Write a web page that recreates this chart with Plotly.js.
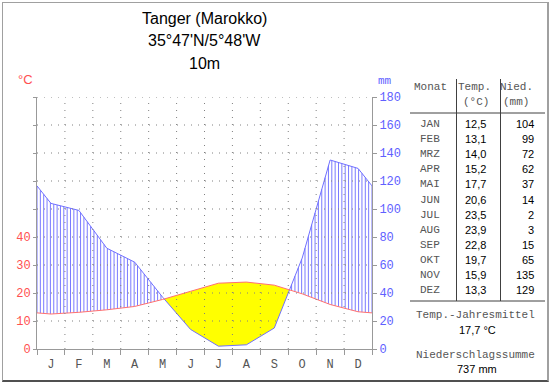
<!DOCTYPE html>
<html><head><meta charset="utf-8">
<script src="https://cdn.plot.ly/plotly-3.0.1.min.js"></script>
<style>
html,body{margin:0;padding:0;background:#fff;}
#chart{width:550px;height:384px;position:absolute;left:0;top:0;}
#frame{position:absolute;left:2px;top:2px;width:544px;height:377px;border:1px solid #a0a0a0;border-right:2px solid #a0a0a0;border-bottom:2px solid #505050;pointer-events:none;}
</style>
</head><body><div id="chart"></div><div id="frame"></div>
<script>
const monthInitials = ['J','F','M','A','M','J','J','A','S','O','N','D'];
const monthNames = ['JAN','FEB','MRZ','APR','MAI','JUN','JUL','AUG','SEP','OKT','NOV','DEZ'];
const temperature = [12.5,13.1,14.0,15.2,17.7,20.6,23.5,23.9,22.8,19.7,15.9,13.3];
const precipitation = [104,99,72,62,37,14,2,3,15,65,135,129];
const tempTickLabels = [0,10,20,30,40];
const precipTicks = [0,20,40,60,80,100,120,140,160,180];
const stationLines = ['Tanger (Marokko)', "35°47'N/5°48'W", '10m'];

// curve with wrap-around edge values
const centers = monthInitials.map((_, i) => i + 0.5);
const xs = [0, ...centers, 12];
const edgeT = (temperature[0] + temperature[11]) / 2;
const edgeP = (precipitation[0] + precipitation[11]) / 2;
const tCurve = [edgeT, ...temperature, edgeT];
const pCurve = [edgeP, ...precipitation, edgeP];
const tmm = tCurve.map(t => t * 2);

function interp(X, Y, x) {
  for (let i = 1; i < X.length; i++) {
    if (x <= X[i] + 1e-9) {
      const t = (x - X[i-1]) / (X[i] - X[i-1]);
      return Y[i-1] + t * (Y[i] - Y[i-1]);
    }
  }
  return Y[Y.length-1];
}

// dry regions (temperature above precipitation)
const d = xs.map((x, i) => pCurve[i] - tmm[i]);
const regions = []; let cur = null;
for (let i = 0; i < xs.length; i++) {
  if (i > 0 && (d[i-1] >= 0) !== (d[i] >= 0)) {
    const f = d[i-1] / (d[i-1] - d[i]);
    const xc = xs[i-1] + f * (xs[i] - xs[i-1]);
    const yc = tmm[i-1] + f * (tmm[i] - tmm[i-1]);
    if (d[i] < 0) { cur = {top: [[xc, yc]], bot: [[xc, yc]]}; }
    else if (cur) { cur.top.push([xc, yc]); cur.bot.push([xc, yc]); regions.push(cur); cur = null; }
  }
  if (d[i] < 0 && cur) { cur.top.push([xs[i], tmm[i]]); cur.bot.push([xs[i], pCurve[i]]); }
}

const traces = [];
// hatching (humid period)
const hx = [], hy = [];
const step = 0.12;
for (let k = 0; k * step <= 12 + 1e-9; k++) {
  const x = Math.min(k * step, 12);
  const p = interp(xs, pCurve, x), t = interp(xs, tmm, x);
  if (p > t) { hx.push(x, x, null); hy.push(t, p, null); }
}
traces.push({x: hx, y: hy, type: 'scatter', mode: 'lines', line: {color: '#7a7aff', width: 1}, hoverinfo: 'skip'});
regions.forEach(r => {
  const pts = [...r.top, ...r.bot.slice().reverse()];
  traces.push({x: pts.map(p => p[0]), y: pts.map(p => p[1]), type: 'scatter', mode: 'lines',
    fill: 'toself', fillcolor: '#ffff00', line: {width: 0, color: 'rgba(0,0,0,0)'}, hoverinfo: 'skip'});
});
traces.push({x: xs, y: pCurve, type: 'scatter', mode: 'lines', line: {color: '#7070ff', width: 1}, name: 'Niederschlag'});
traces.push({x: xs, y: tCurve, type: 'scatter', mode: 'lines', yaxis: 'y2', line: {color: '#ff7070', width: 1}, name: 'Temperatur'});

// pixel helpers for layout placement
const L = 37, R = 372, T = 97, B = 349;
const px = x => (x - L) / (R - L);
const py = y => (B - y) / (B - T);

const shapes = [];
precipTicks.filter(v => v > 0).forEach(v => shapes.push({type: 'line', xref: 'x', yref: 'y', x0: 0, x1: 12, y0: v, y1: v,
  line: {color: '#808080', width: 1, dash: '1px,6px'}, layer: 'above'}));
for (let m = 1; m < 12; m++) shapes.push({type: 'line', xref: 'x', yref: 'y', x0: m, x1: m, y0: 0, y1: 180,
  line: {color: '#808080', width: 1, dash: '1px,6px'}, layer: 'above'});
// table lines
const tl = (x0, y0, x1, y1) => shapes.push({type: 'line', xref: 'paper', yref: 'paper', x0: px(x0), x1: px(x1), y0: py(y0), y1: py(y1), line: {color: '#404040', width: 1}});
tl(410, 113, 545, 113);
tl(410, 301, 545, 301);
tl(456.5, 79, 456.5, 301);
tl(500.5, 79, 500.5, 301);

const mono = 'Liberation Mono, Courier New, monospace';
const sans = 'Liberation Sans, Arial, sans-serif';
const ann = [];
const A = (text, x, y, o) => ann.push(Object.assign({text, x: px(x), y: py(y), xref: 'paper', yref: 'paper', showarrow: false,
  xanchor: 'center', yanchor: 'middle', font: {family: sans, size: 11, color: '#000'}}, o || {}));
stationLines.forEach((s, i) => A(s, 204.5, [18, 41, 63][i], {font: {family: sans, size: 16, color: '#000'}}));
A('°C', 25, 79, {font: {family: sans, size: 13, color: '#ff5050'}});
A('mm', 385, 81, {font: {family: mono, size: 11, color: '#6060ff'}});
const mf = {family: mono, size: 11, color: '#555'};
A('Monat', 430, 87, {font: mf});
A('Temp.', 474, 87, {font: mf});
A('(°C)', 476, 102, {font: mf});
A('Nied.', 516, 87, {font: mf});
A('(mm)', 516, 102, {font: mf});
const fmt = v => v.toFixed(1).replace('.', ',');
monthNames.forEach((m, i) => {
  const y = 124 + i * 15.1;
  A(m, 430, y, {font: mf});
  A(fmt(temperature[i]), 488, y, {xanchor: 'right'});
  A(String(precipitation[i]), 536, y, {xanchor: 'right'});
});
const meanT = temperature.reduce((a, b) => a + b, 0) / temperature.length;
const sumP = precipitation.reduce((a, b) => a + b, 0);
A('Temp.-Jahresmittel', 475, 315, {font: mf});
A(fmt(meanT) + ' °C', 477, 330);
A('Niederschlagssumme', 475, 355, {font: mf});
A(sumP + ' mm', 477, 369);

const leftVals = precipTicks.map(v => v / 2);
const leftText = leftVals.map(v => tempTickLabels.includes(v) ? String(v) : '');

const layout = {
  width: 550, height: 384,
  margin: {l: L, r: 550 - R, t: T, b: 384 - B, pad: 0},
  paper_bgcolor: '#fff', plot_bgcolor: '#fff',
  showlegend: false,
  xaxis: {range: [0, 12], tickmode: 'array', tickvals: centers, ticktext: monthInitials, ticks: '', showgrid: false, zeroline: false,
    showline: true, linecolor: '#999', linewidth: 1, tickfont: {family: mono, size: 12, color: '#555'},
    minor: {tickmode: 'array', tickvals: xs.filter((x, i) => i === 0 || i === xs.length - 1).concat(centers.map(c => c + 0.5)), ticks: 'outside', ticklen: 5, tickcolor: '#999', tickwidth: 1, showgrid: false},
    ticklabelstandoff: 4, fixedrange: true},
  yaxis: {range: [0, 180], side: 'right', tickmode: 'array', tickvals: precipTicks, ticks: 'outside', ticklen: 4, tickcolor: '#999',
    showline: true, linecolor: '#999', linewidth: 1, showgrid: false, zeroline: false,
    tickfont: {family: mono, size: 12, color: '#6060ff'}, fixedrange: true},
  yaxis2: {range: [0, 90], overlaying: 'y', side: 'left', tickmode: 'array', tickvals: leftVals, ticktext: leftText, ticks: 'outside', ticklen: 3,
    tickcolor: '#999', showline: true, linecolor: '#999', linewidth: 1, showgrid: false, zeroline: false,
    tickfont: {family: mono, size: 12, color: '#ff5050'}, fixedrange: true},
  shapes, annotations: ann
};
Plotly.newPlot('chart', traces, layout, {displayModeBar: false, staticPlot: true});
</script></body></html>
